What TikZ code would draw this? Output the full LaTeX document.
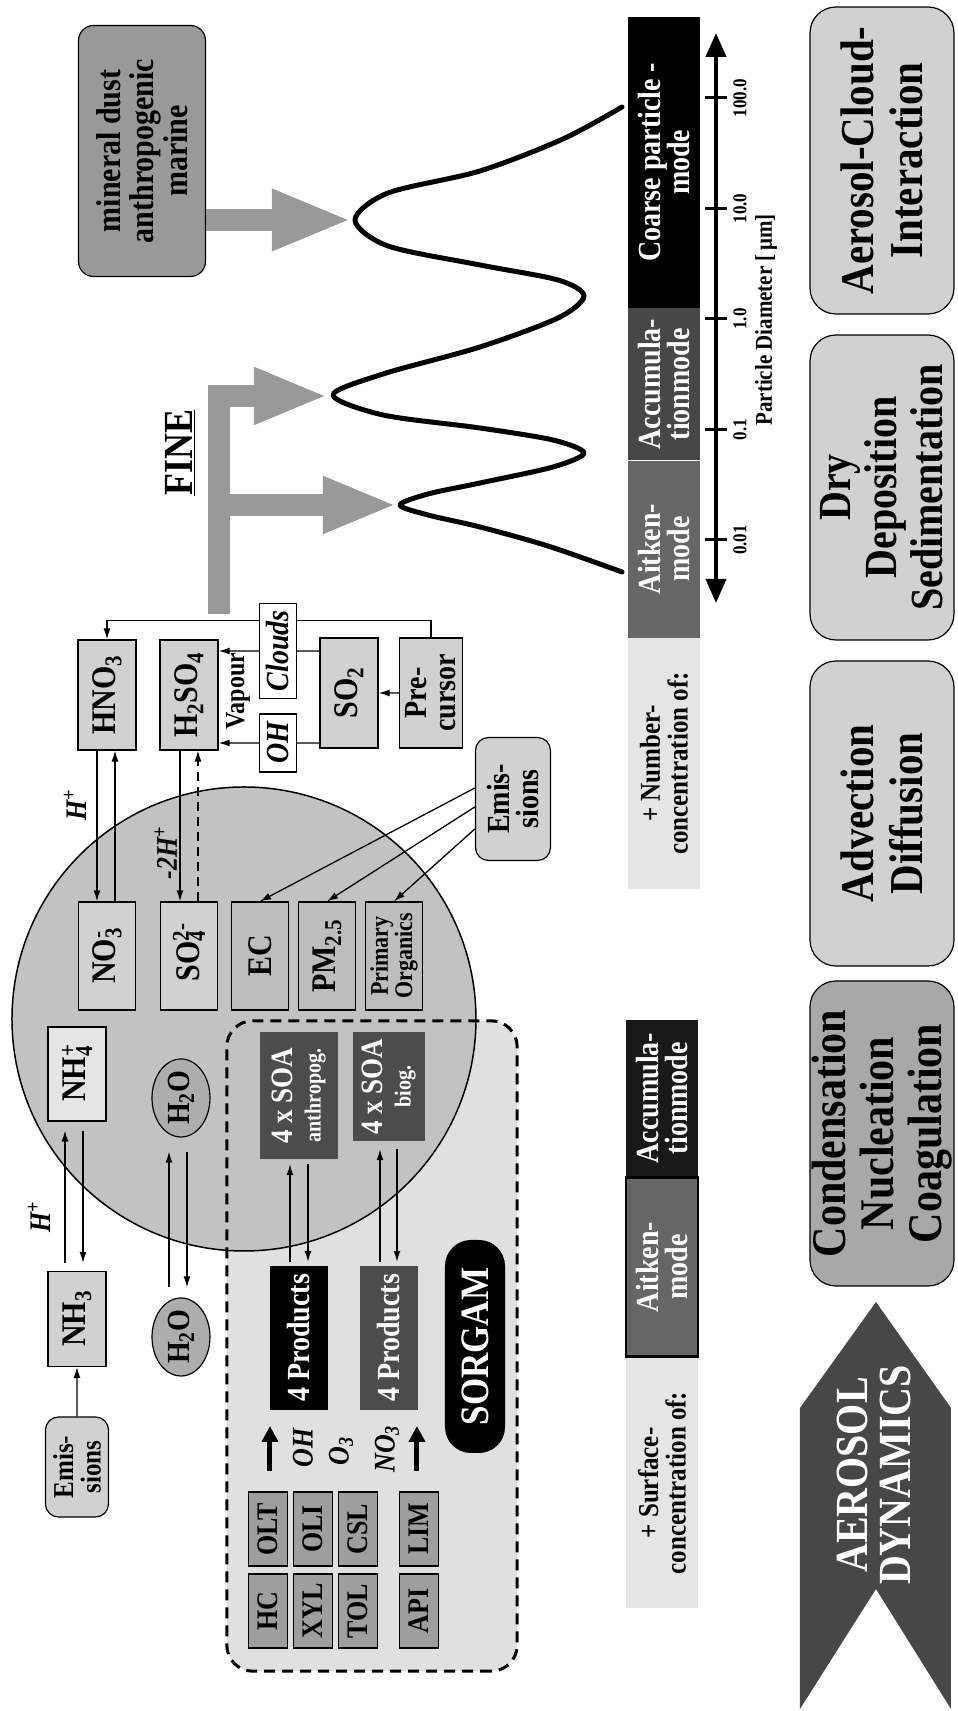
\documentclass[tikz,border=0pt]{standalone}
\usepackage{fontspec}
\setmainfont{Liberation Serif}
\usetikzlibrary{positioning,shapes.geometric,arrows.meta}
\definecolor{palefill}{gray}{0.90}
\definecolor{boxfill}{gray}{0.82}
\definecolor{dropfill}{gray}{0.76}
\definecolor{ecfill}{gray}{0.74}
\definecolor{sorgfill}{gray}{0.88}
\definecolor{vocfill}{gray}{0.62}
\definecolor{waterfill}{gray}{0.68}
\definecolor{dustfill}{gray}{0.60}
\definecolor{condfill}{gray}{0.66}
\definecolor{fatgray}{gray}{0.60}
\definecolor{aitfill}{gray}{0.40}
\definecolor{accfill}{gray}{0.28}
\definecolor{darkfill}{gray}{0.30}
\definecolor{chevfill}{gray}{0.28}
\newcommand{\fsz}[2]{\fontsize{#1}{#2}\selectfont\bfseries}
\newcommand{\ionsub}[2]{\rlap{\textsuperscript{#2}}\textsubscript{#1}}
\begin{document}
\begin{tikzpicture}[x=1pt, y=1pt, rotate=90, transform shape,
  tall/.style = {yscale=1.15},
  chem/.style = {tall, draw, line width=1.2pt, fill=boxfill, minimum width=110pt, minimum height=50.4pt, inner sep=1pt, align=center, font=\fsz{30}{32}},
  inbox/.style = {chem, minimum width=108pt, minimum height=49.6pt},
  emis/.style = {tall, draw, line width=1.2pt, fill=boxfill, rounded corners=13pt, inner sep=1pt, align=center},
  water/.style = {tall, ellipse, draw, line width=1.2pt, fill=waterfill, minimum width=78pt, minimum height=50.4pt, inner sep=0pt, font=\fsz{28}{30}},
  tag/.style = {tall, draw, line width=1.2pt, fill=white, minimum width=58pt, minimum height=32.2pt, inner sep=0pt, font=\fsz{28}{28}\itshape},
  voc/.style = {tall, draw, line width=1.5pt, fill=vocfill, minimum width=74pt, minimum height=33.9pt, inner sep=0pt, font=\fsz{26}{28}},
  prod/.style = {tall, minimum width=144pt, minimum height=50.4pt, inner sep=0pt, text=white, font=\fsz{28}{30}},
  soa/.style = {tall, fill=darkfill, inner sep=0pt, align=center, text=white, font=\fsz{27}{24}},
  lbl/.style = {tall, inner sep=0pt, font=\fsz{26}{28}\itshape},
  txt/.style = {tall, inner sep=1pt, align=center},
  flow/.style = {-{Latex[length=11pt,width=7pt]}, line width=1.3pt},
  thickflow/.style = {-{Triangle[length=16pt,width=16pt]}, line width=5pt},
  fat/.style = {line width=22pt, draw=fatgray},
  cell/.style = {tall, minimum height=62.6pt, inner sep=0pt, align=center, text=white, font=\fsz{28}{26}},
  dyn/.style = {tall, draw, line width=1.2pt, fill=boxfill, rounded corners=26pt, minimum width=305pt, minimum height=125.2pt, inner sep=0pt, align=center, font=\fsz{41}{43}}]
\useasboundingbox (0,0) rectangle (1711,958);
\node[fill=sorgfill, rounded corners=26pt, minimum width=650pt, minimum height=290pt] (sorg) at (365,586) {};
\node[circle, draw, line width=1.5pt, fill=dropfill, minimum size=464pt] (drop) at (692,714) {};
\draw[line width=3pt, dash pattern=on 11pt off 7pt, rounded corners=26pt] (sorg.south west) rectangle (sorg.north east);
\node[emis, minimum width=100pt, minimum height=54.8pt, font=\fsz{25}{24}] (emisA) at (244,881) {Emis-\\sions};
\node[chem, minimum width=95pt] (nh3) at (392,881) {NH\textsubscript{3}};
\node[chem, fill=palefill, minimum width=94pt] (nh4) at (637,881) {NH\ionsub{4}{+}};
\draw[flow] (emisA) -- (nh3);
\draw[flow, shorten <=8pt, shorten >=9pt] ([yshift=12pt]nh3.east) -- ([yshift=12pt]nh4.west);
\draw[flow, shorten <=9pt, shorten >=8pt] ([yshift=-6pt]nh4.west) -- ([yshift=-6pt]nh3.east);
\node[lbl] (hA) at (494,919) {H\textsuperscript{+}};
\node[water] (h2oA) at (374,777) {H\textsubscript{2}O};
\node[water] (h2oB) at (613,777) {H\textsubscript{2}O};
\draw[flow, shorten <=10pt, shorten >=14pt] ([yshift=12pt]h2oA.east) -- ([yshift=12pt]h2oB.west);
\draw[flow, shorten <=14pt, shorten >=10pt] ([yshift=-6pt]h2oB.west) -- ([yshift=-6pt]h2oA.east);
\node[inbox] (no3) at (755,851) {NO\ionsub{3}{-}};
\node[inbox] (so4) at (755,769) {SO\ionsub{4}{2-}};
\node[inbox, fill=ecfill] (ec) at (755,698) {EC};
\node[inbox, fill=ecfill] (pm) at (755,631) {PM\textsubscript{2.5}};
\node[inbox, fill=ecfill, font=\fsz{22}{20}] (porg) at (755,564) {Primary\\Organics};
\node[chem] (hno3) at (1016,851) {HNO\textsubscript{3}};
\node[chem] (h2so4) at (1016,769) {H\textsubscript{2}SO\textsubscript{4}};
\node[chem] (so2) at (1018,609) {SO\textsubscript{2}};
\node[chem, minimum height=54.8pt, font=\fsz{28}{25}] (prec) at (1018,527) {Pre-\\cursor};
\draw[flow] ([yshift=10pt]hno3.west) -- ([yshift=10pt]no3.east);
\draw[flow] ([yshift=-8pt]no3.east) -- ([yshift=-8pt]hno3.west);
\draw[flow] ([yshift=9pt]h2so4.west) -- ([yshift=9pt]so4.east);
\draw[flow, dash pattern=on 9pt off 6pt] ([yshift=-9pt]so4.east) -- ([yshift=-9pt]h2so4.west);
\node[lbl] (hB) at (906,883) {H\textsuperscript{+}};
\node[lbl, anchor=south] (hC) at (858,781) {-2H\textsuperscript{+}};
\draw[flow] (prec.east) -- ++(17,0) |- (hno3.east);
\draw[flow] (prec) -- (so2);
\node[tag] (oh) at (968,680) {OH};
\node[tag, minimum width=95pt] (cloud) at (1060,680) {Clouds};
\draw[line width=1.2pt] (so2.north -| oh) -- (oh);
\draw[flow] (oh) -- (h2so4.south -| oh);
\draw[line width=1.2pt] (so2.north -| cloud) -- (cloud);
\draw[flow] (cloud) -- (h2so4.south -| cloud);
\node[txt, font=\fsz{24}{24}] (vap) at (1020,720) {Vapour};
\node[emis, minimum width=123pt, minimum height=65.2pt, font=\fsz{28}{26}] (emisB) at (912,445) {Emis-\\sions};
\draw[flow] ([xshift=11pt]emisB.north) -- (ec.east);
\draw[flow] ([xshift=-8pt]emisB.north) -- (pm.east);
\draw[flow] ([xshift=-30pt]emisB.north) -- (porg.east);
\foreach \a/\b/\y [count=\r] in {HC/OLT/690, XYL/OLI/645, TOL/CSL/600, API/LIM/539} {
  \node[voc] (va\r) at (100,\y) {\a};
  \node[voc] (vb\r) at (182,\y) {\b};
}
\coordinate (oa1) at (240,688);
\coordinate (oa2) at (285,688);
\coordinate (ob1) at (240,541);
\coordinate (ob2) at (285,541);
\draw[thickflow] (oa1) -- (oa2);
\draw[thickflow] (ob1) -- (ob2);
\node[lbl] (oxA) at (263,655) {OH};
\node[lbl] (oxB) at (260,617) {O\textsubscript{3}};
\node[lbl] (oxC) at (262,571) {NO\textsubscript{3}};
\node[prod, fill=black] (prodA) at (373,659) {4 Products};
\node[prod, fill=darkfill] (prodB) at (373,569) {4 Products};
\node[soa, minimum width=127pt, minimum height=67.8pt] (soaA) at (615.5,659) {4 x SOA\\{\fsz{20}{20}anthropog.}};
\node[soa, minimum width=109pt, minimum height=62.6pt] (soaB) at (624.5,569) {4 x SOA\\{\fsz{20}{20}biog.}};
\draw[flow, shorten <=4pt, shorten >=5pt] ([yshift=9pt]prodA.east) -- ([yshift=9pt]soaA.west);
\draw[flow, shorten <=5pt, shorten >=4pt] ([yshift=-9pt]soaA.west) -- ([yshift=-9pt]prodA.east);
\draw[flow, shorten <=4pt, shorten >=8pt] ([yshift=9pt]prodB.east) -- ([yshift=9pt]soaB.west);
\draw[flow, shorten <=8pt, shorten >=4pt] ([yshift=-8pt]soaB.west) -- ([yshift=-8pt]prodB.east);
\node[tall, fill=black, rounded corners=26pt, minimum width=213pt, minimum height=52.2pt, text=white, font=\fsz{35}{35}] (sorglab) at (364.5,483) {SORGAM};
\node[emis, fill=dustfill, rounded corners=15pt, minimum width=251pt, minimum height=110.4pt, font=\fsz{30}{29}] (dust) at (1560,816) {mineral dust\\anthropogenic\\marine};
\coordinate (coapk) at (1491,606);
\draw[fat, -{Triangle[length=80pt,width=56pt]}] (dust.south -| coapk) -- (coapk);
\coordinate (fine0) at (1097,739);
\coordinate (fine1) at (1315,739);
\coordinate (fine2) at (1206,739);
\coordinate (accpk) at (1315,630);
\coordinate (aitpk) at (1206,561);
\draw[fat, line join=miter, -{Triangle[length=74pt,width=52pt]}] (fine0) -- (fine1) -- (accpk);
\draw[fat, -{Triangle[length=74pt,width=52pt]}] (fine2) -- (aitpk);
\node[txt, font=\fsz{36}{36}] (fine) at (1258,778) {\underline{FINE}};
\draw[line width=5pt, line join=round, line cap=round] plot[smooth, tension=0.5] coordinates {(1139,336) (1165,410) (1184,478) (1196,530) (1206,558) (1217,530) (1228,478) (1244,405) (1258,374) (1271,405) (1283,478) (1296,575) (1316,625) (1337,575) (1364,478) (1393,400) (1415,374) (1431,400) (1446,478) (1465,570) (1491,603) (1518,570) (1540,478) (1572,395) (1604,336)};
\node[cell, fill=palefill, text=black, minimum width=251pt, font=\fsz{25}{24}] (nconc) at (947.5,294) {+ Number-\\concentration of:};
\node[cell, fill=aitfill, minimum width=177pt, right=0pt of nconc] (nait) {Aitken-\\mode};
\node[cell, fill=accfill, minimum width=152pt, right=0pt of nait] (nacc) {Accumula-\\tionmode};
\node[cell, fill=black, minimum width=291pt, right=0pt of nacc] (ncoa) {Coarse particle -\\mode};
\coordinate (axl) at (1108,242);
\coordinate (axr) at (1678,242);
\draw[line width=4pt, {Triangle[length=24pt,width=20pt]}-{Triangle[length=24pt,width=20pt]}] (axl) -- (axr);
\foreach \lab [count=\i] in {0.01,0.1,1.0,10.0,100.0} {
  \pgfmathsetmacro{\tx}{1171+110.5*(\i-1)}
  \draw[line width=3pt] (\tx,231) -- (\tx,253);
  \node[txt, font=\fsz{17}{17}] (tick\i) at (\tx,218) {\lab};
}
\node[txt, font=\fsz{21}{21}] (pdiam) at (1391,192) {Particle Diameter [\,μm]};
\node[cell, fill=palefill, text=black, minimum width=250pt, font=\fsz{25}{24}] (sconc) at (228,296) {+ Surface-\\concentration of:};
\node[cell, fill=aitfill, draw=black, line width=2.5pt, minimum width=179pt, right=0pt of sconc] (sait) {Aitken-\\mode};
\node[cell, fill=black!90, minimum width=156pt, right=0pt of sait] (sacc) {Accumula-\\tionmode};
\fill[chevfill] (2,7) -- (303,7) -- (409,82) -- (303,158) -- (2,158) -- (122,82) -- cycle;
\node[txt, text=white, font=\fsz{40}{38}] (aerodyn) at (236,84) {AEROSOL\\DYNAMICS};
\node[dyn, fill=condfill, font=\fsz{42}{42}] (cond) at (577.5,76) {Condensation\\Nucleation\\Coagulation};
\node[dyn] (adv) at (897.5,76) {Advection\\Diffusion};
\node[dyn, font=\fsz{40}{40}] (dry) at (1223.5,76) {Dry\\Deposition\\Sedimentation};
\node[dyn, minimum width=307pt] (acl) at (1550.5,76) {Aerosol-Cloud-\\Interaction};
\end{tikzpicture}
\end{document}
